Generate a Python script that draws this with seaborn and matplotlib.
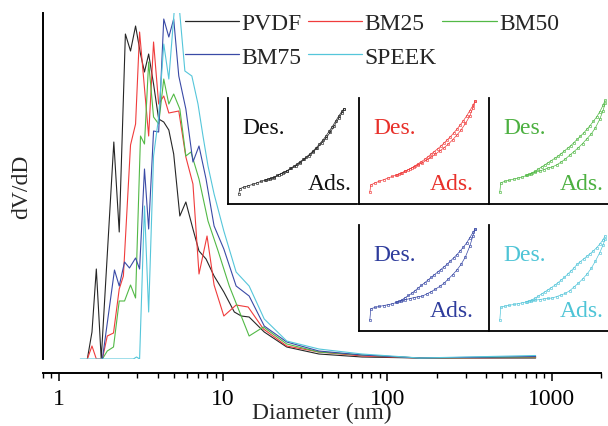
import matplotlib
matplotlib.use("Agg")
import matplotlib.pyplot as plt
import seaborn as sns
import pandas as pd

# ---------------- main pore-size distribution data ----------------
samples = ["PVDF", "BM25", "BM50", "BM75", "SPEEK"]
colors = ["#262626", "#f03c3c", "#52b946", "#3a4aa6", "#55c6da"]
text_colors = ["#111111", "#e8302a", "#4cb040", "#2e3c9c", "#4ec4d6"]
legend_order = ["PVDF", "BM75", "BM25", "SPEEK", "BM50"]

d_pvdf = [1.49, 1.59, 1.69, 1.81, 2.16, 2.33, 2.54, 2.73, 2.93, 3.14, 3.32, 3.52, 3.77,
          4.05, 4.35, 4.67, 5.0, 5.45, 5.93, 6.55, 7.13, 7.87, 8.81, 10.1, 11.7, 12.9,
          14.4, 17.8, 24.4, 38.3, 70.2, 157, 800]
v_pvdf = [0, 27, 90, 0, 217, 127, 325, 308, 333, 305, 287, 305, 275,
          240, 237, 229, 205, 143, 157, 130, 108, 100, 83, 67, 47, 43,
          42, 27, 12, 5, 2, 1, 1]

d_bm25 = [1.49, 1.59, 1.69, 1.84, 1.97, 2.15, 2.33, 2.47, 2.73, 2.93, 3.10, 3.52, 3.77,
          4.05, 4.35, 4.67, 5.0, 5.37, 5.93, 6.55, 7.13, 7.98, 8.81, 10.1, 12.0, 14.2,
          17.6, 24.4, 38.3, 70.2, 157, 800]
v_bm25 = [0, 13, 0, 0, 23, 26, 70, 83, 214, 235, 327, 223, 317,
          255, 263, 246, 247, 248, 202, 175, 85, 123, 74, 43, 54, 52,
          30, 13, 7, 3, 1, 1.5]

d_bm50 = [1.84, 1.97, 2.15, 2.33, 2.51, 2.73, 2.93, 3.14, 3.32, 3.52, 3.77, 4.05, 4.35,
          4.67, 5.0, 5.45, 5.93, 6.37, 7.13, 8.09, 9.32, 10.9, 14.4, 17.6, 24.4, 38.3,
          70.2, 157, 800]
v_bm50 = [0, 8, 12, 58, 58, 74, 61, 223, 215, 297, 242, 235, 280,
          255, 265, 250, 203, 207, 180, 138, 108, 73, 23, 32, 15, 7,
          4, 1, 2]

d_bm75 = [1.84, 2.18, 2.33, 2.51, 2.69, 2.93, 3.10, 3.32, 3.52, 3.77, 4.05, 4.35, 4.67,
          5.0, 5.37, 5.93, 6.55, 7.13, 7.87, 8.81, 10.1, 12.0, 14.4, 17.8, 24.4, 38.3,
          70.2, 157, 800]
v_bm75 = [0, 89, 73, 97, 91, 101, 90, 190, 130, 228, 227, 340, 322,
          340, 283, 250, 197, 213, 180, 133, 110, 73, 63, 33, 17, 8,
          4, 1, 2.5]

d_speek = [1.35, 2.84, 2.97, 3.10, 3.32, 3.52, 3.77, 4.05, 4.35, 4.67, 5.22, 5.85, 6.45,
           7.03, 7.54, 8.09, 8.81, 10.1, 12.0, 14.4, 17.8, 24.4, 38.3, 70.2, 157, 800]
v_speek = [0, 0, 2, 0, 153, 47, 203, 242, 315, 280, 380, 288, 283,
           255, 223, 193, 165, 128, 87, 73, 40, 18, 10, 5, 1, 3.5]

x_ticks = [1, 10, 100, 1000]
x_tick_labels = ["1", "10", "100", "1000"]

# ---------------- inset isotherm data ----------------
p_ads = [0.01, 0.02, 0.06, 0.10, 0.14, 0.18, 0.22, 0.26, 0.30, 0.34, 0.38, 0.42, 0.46,
         0.50, 0.54, 0.58, 0.62, 0.66, 0.70, 0.74, 0.78, 0.82, 0.86, 0.90, 0.94, 0.97, 0.99]
p_des = [0.99, 0.97, 0.94, 0.91, 0.88, 0.85, 0.82, 0.79, 0.76, 0.73, 0.70, 0.67, 0.64,
         0.61, 0.58, 0.55, 0.52, 0.49, 0.46, 0.43, 0.40, 0.37, 0.34, 0.31, 0.28, 0.25]

ads_pvdf = [9.5, 14.5, 16, 17.3, 18.5, 20, 21.4, 22.5, 23.8, 25, 27.5, 29.5, 31,
            33.5, 36, 39, 42, 45.5, 49, 53, 57.5, 62, 67.5, 74, 81, 86, 90]
des_pvdf = [90, 87.5, 83, 78, 73, 68.5, 64, 60, 56.5, 53, 50, 47, 44.5,
            42, 40, 37.5, 35.5, 33.5, 31.5, 30, 28.5, 27, 25.5, 24.5, 23.5, 22.5]

ads_bm25 = [11, 18, 20, 21.5, 23, 24.5, 26, 27.5, 29, 31, 33, 35, 37,
            39, 41.5, 44, 47, 50, 53, 56.5, 60.5, 65, 70, 76, 83, 91, 97]
des_bm25 = [97, 93, 88, 83, 78.5, 74.5, 70.5, 67, 63.5, 60.5, 57.5, 54.5, 52,
            49.5, 47, 44.5, 42, 40, 38, 36, 34, 32.5, 31, 29.5, 28, 27]

ads_bm50 = [11, 20, 21.5, 22.5, 23.5, 24.5, 25.5, 27, 28.5, 30, 31, 32.5, 34,
            35, 37, 39.5, 42.5, 46, 49.5, 53, 57, 61.5, 66, 72, 80, 88, 95]
des_bm50 = [98, 93, 87, 82, 78, 74, 70.5, 67, 64, 61, 58, 55, 52.5,
            50, 47.5, 45, 43, 41, 39, 37, 35, 33, 31, 29.5, 28, 27]

ads_bm75 = [10, 21, 22.3, 23.2, 24, 24.8, 25.7, 27, 28.5, 29.5, 30.5, 31.5, 32.3,
            33, 35, 37, 39.5, 42, 45, 49, 53, 57.5, 63, 70, 80, 90, 96]
des_bm75 = [96, 93, 88, 83, 79, 75.5, 72, 69, 66, 63, 60.5, 58, 55.5,
            53, 50.5, 48, 45.5, 43, 40.5, 38, 35.5, 33.5, 31.5, 29.5, 28, 27]

ads_speek = [10, 22.5, 23.5, 24.3, 25, 25.8, 26.6, 27.5, 28.3, 29, 29.7, 30.3, 30.7,
             31.2, 32.5, 34, 35.5, 38, 41.5, 45, 49, 53.5, 59, 66, 74, 81, 87]
des_speek = [90, 86, 82, 78.5, 75.5, 73, 70.5, 68, 65.5, 63, 59.5, 56.5, 53.5,
             50.5, 48, 45.5, 43, 41, 39, 37, 35, 33, 31, 29.5, 28.5, 27.5]

# ---------------- build tables ----------------
main_d = [d_pvdf, d_bm25, d_bm50, d_bm75, d_speek]
main_v = [v_pvdf, v_bm25, v_bm50, v_bm75, v_speek]
frames = []
for name, d, v in zip(samples, main_d, main_v):
    frames.append(pd.DataFrame({"Diameter": d, "dVdD": v, "Sample": name}))
df = pd.concat(frames, ignore_index=True)

iso_ads = [ads_pvdf, ads_bm25, ads_bm50, ads_bm75, ads_speek]
iso_des = [des_pvdf, des_bm25, des_bm50, des_bm75, des_speek]

# ---------------- plotting ----------------
sns.set_theme(style="white")
plt.rcParams["font.family"] = ["Liberation Serif", "DejaVu Serif"]
plt.rcParams["axes.edgecolor"] = "black"

FS = 17
fig = plt.figure(figsize=(6.08, 4.27), dpi=100)
ax = fig.add_axes([0.0707, 0.1569, 0.9178, 0.8103])

sns.lineplot(data=df, x="Diameter", y="dVdD", hue="Sample", hue_order=samples,
             palette=colors, sort=False, estimator=None, linewidth=0.8, ax=ax)

ax.set_xscale("log")
ax.set_xlim(0.8, 2000)
ax.set_ylim(0, 346)
ax.set_yticks([])
ax.set_xticks(x_ticks)
ax.set_xticklabels(x_tick_labels)
ax.tick_params(axis="x", which="major", direction="out", length=6, width=1.1,
               bottom=True, pad=5, colors="black", labelsize=FS)
ax.tick_params(axis="x", which="minor", direction="out", length=3.5, width=1.0,
               bottom=True, colors="black", labelbottom=False)
ax.set_xlabel("Diameter (nm)", fontsize=FS, labelpad=-5)
ax.set_ylabel("dV/dD", fontsize=FS, labelpad=8)
sns.despine(ax=ax, offset={"bottom": 10})
ax.spines["left"].set_linewidth(1.4)
ax.spines["bottom"].set_linewidth(1.4)

handles, labels = ax.get_legend_handles_labels()
hmap = dict(zip(labels, handles))
leg = ax.legend([hmap[n] for n in legend_order], legend_order, ncol=3, frameon=False,
                fontsize=FS, loc="upper left", bbox_to_anchor=(0.304, 0.968),
                bbox_transform=fig.transFigure, handlelength=2.3,
                handletextpad=0.1, columnspacing=0.25, labelspacing=0.5,
                borderpad=0, borderaxespad=0)
for line in leg.get_lines():
    line.set_linewidth(0.9)

# ---------------- insets ----------------
inset_pos = [
    [0.375, 0.5199],
    [0.5905, 0.5199],
    [0.8043, 0.5199],
    [0.5905, 0.2225],
    [0.8043, 0.2225],
]
ads_text_x = [0.62, 0.55, 0.55, 0.55, 0.55]
for i, name in enumerate(samples):
    l, b = inset_pos[i]
    iax = fig.add_axes([l, b, 0.2122, 0.2482])
    iax.set_facecolor("none")
    c = colors[i]
    sns.lineplot(x=p_ads, y=iso_ads[i], ax=iax, color=c, sort=False, estimator=None,
                 linewidth=0.5, marker="s", markersize=1.7, markerfacecolor="none",
                 markeredgecolor=c, markeredgewidth=0.45, clip_on=False)
    sns.lineplot(x=p_des, y=iso_des[i], ax=iax, color=c, sort=False, estimator=None,
                 linewidth=0.5, marker="s", markersize=1.7, markerfacecolor="none",
                 markeredgecolor=c, markeredgewidth=0.45, clip_on=False)
    iax.set_xlim(-0.09, 1.11)
    iax.set_ylim(0, 100)
    iax.set_xticks([])
    iax.set_yticks([])
    iax.set_xlabel("")
    iax.set_ylabel("")
    sns.despine(ax=iax)
    iax.spines["left"].set_linewidth(1.3)
    iax.spines["bottom"].set_linewidth(1.3)
    tc = text_colors[i]
    iax.text(0.11, 0.72, "Des.", transform=iax.transAxes, fontsize=FS, color=tc,
             ha="left", va="center")
    iax.text(ads_text_x[i], 0.19, "Ads.", transform=iax.transAxes, fontsize=FS,
             color=tc, ha="left", va="center")

fig.savefig("out.png", dpi=100)
